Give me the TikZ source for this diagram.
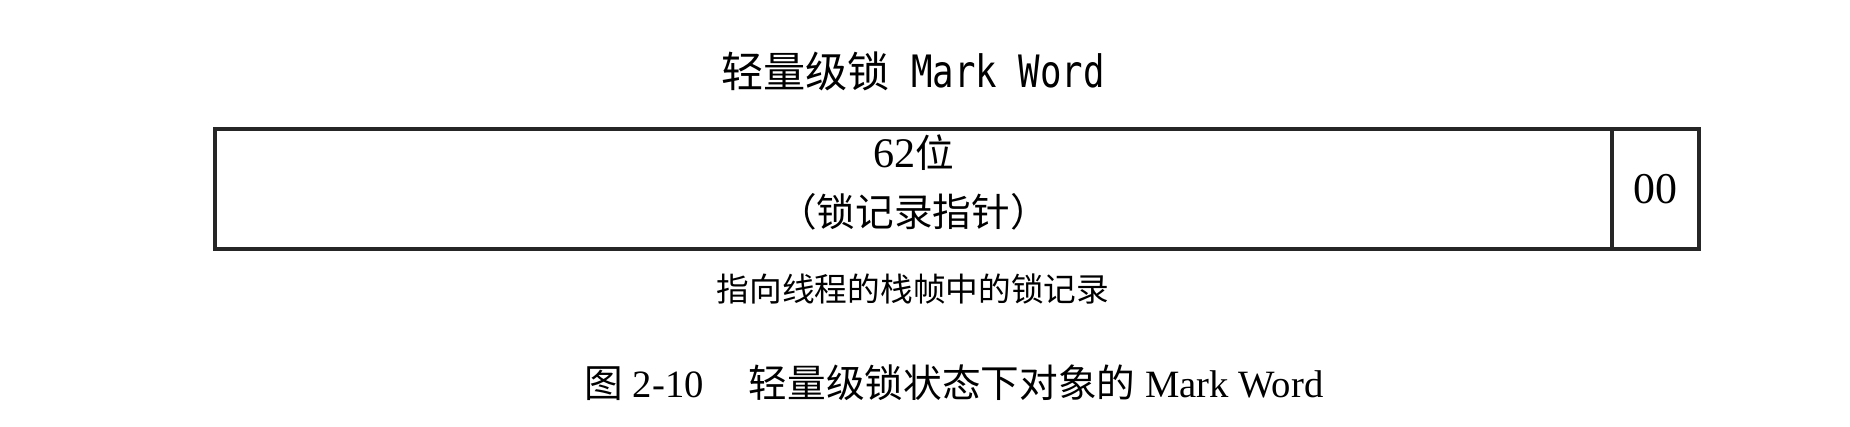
\documentclass[tikz,border=0pt]{standalone}
\usepackage{fontspec}
\setmainfont{Liberation Serif}
\newfontfamily\cjk{Noto Sans CJK SC}
\newfontfamily\monofont[FakeStretch=0.8]{DejaVu Sans Mono}
\usetikzlibrary{positioning}

\begin{document}
\begin{tikzpicture}[
  cell/.style={draw=black!85, line width=1.1pt, outer sep=0pt, inner sep=0pt,
    minimum height=1.2cm, align=center},
  lbl/.style={inner sep=0pt, align=center}]
\useasboundingbox (0,0) rectangle (18.5,4.26);
\node[cell, minimum width=13.97cm, font=\fontsize{11}{16.8}\selectfont] (ptr) at (9.135,2.37)
  {\fontsize{12}{16.8}\selectfont 62{\cjk\fontsize{11}{16.8}\selectfont 位}\\{\cjk （锁记录指针）}\rule[-1.6mm]{0pt}{0pt}};
\node[cell, minimum width=0.87cm, right=0pt of ptr, font=\fontsize{12.5}{15}\selectfont] (tag) {00};
% labels
\node[lbl, font=\fontsize{12}{14}\selectfont] (title) at (9.13,3.55)
  {{\cjk 轻量级锁}{\monofont\fontsize{12.7}{14}\selectfont\ Mark Word}};
\node[lbl, font=\fontsize{9.3}{11}\selectfont\cjk] (note) at (9.13,1.37) {指向线程的栈帧中的锁记录};
\node[lbl, font=\fontsize{11}{13}\selectfont] (caption) at (9.54,0.43)
  {{\cjk 图} 2-10\hspace{4.5mm}{\cjk 轻量级锁状态下对象的} Mark Word};
\end{tikzpicture}
\end{document}
